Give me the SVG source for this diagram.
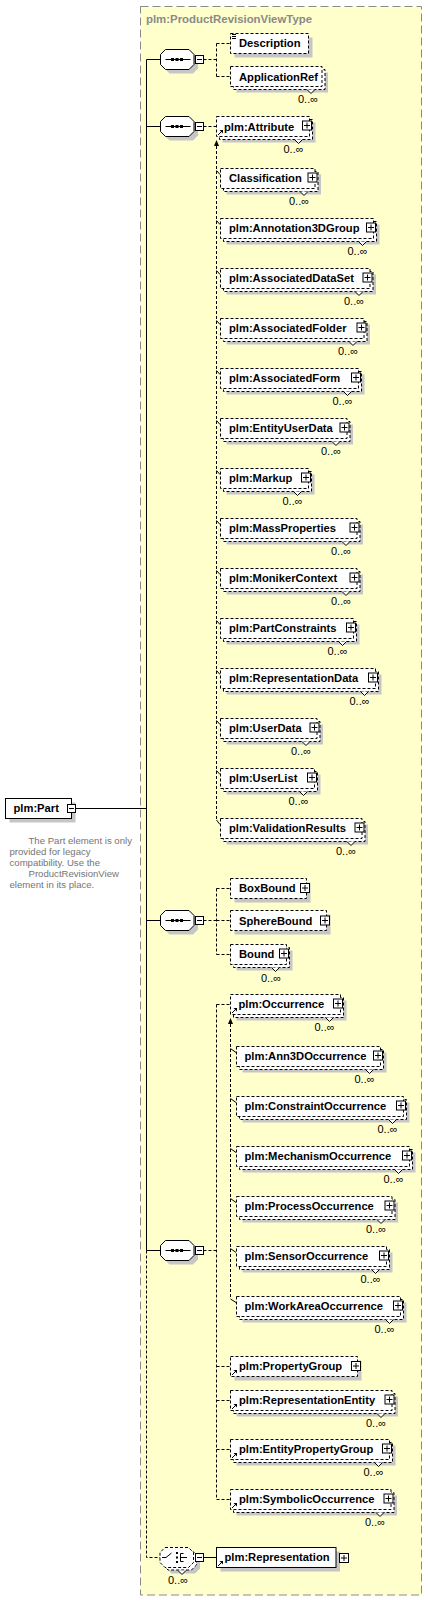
<svg xmlns="http://www.w3.org/2000/svg" xmlns:xlink="http://www.w3.org/1999/xlink" width="428" height="1601" viewBox="0 0 428 1601">
<style>
.t{font-family:"Liberation Sans",Arial,sans-serif;font-weight:bold;font-size:11.2px;fill:#000}
.m{font-family:"Liberation Sans",Arial,sans-serif;font-size:11px;fill:#000}
.c{font-family:"Liberation Sans",Arial,sans-serif;font-size:9.6px;fill:#757575}
.ti{font-family:"Liberation Sans",Arial,sans-serif;font-weight:bold;font-size:11.4px;fill:#8a8a8a}
.d{fill:#fff;stroke:#000;stroke-width:1;stroke-dasharray:3,2}
.s{fill:#fff;stroke:#000;stroke-width:1}
.sh{fill:#c6c6c6;stroke:none}
.n{fill:#fff;stroke:#000;stroke-width:1}
.ln{fill:none;stroke:#000;stroke-width:1}
.dl{fill:none;stroke:#000;stroke-width:1;stroke-dasharray:3,2}
</style>
<defs>
<g id="plus"><rect x="0.5" y="0.5" width="9" height="9" fill="#fff" stroke="#000"/><path d="M2 5H8M5 2V8" stroke="#000" fill="none"/></g>
<g id="minus"><rect x="0.5" y="0.5" width="8" height="8" fill="#fff" stroke="#000"/><path d="M2 4.5H7" stroke="#000" fill="none"/></g>
<g id="ref"><path d="M0.5 5.5L4.5 1.5" stroke="#000" fill="none"/><path d="M2 0.5H5.5V4Z" fill="#000"/></g>
<g id="seqicon"><path d="M0 0H25" stroke="#000" fill="none"/><rect x="5.5" y="-1.5" width="3" height="3" fill="#000"/><rect x="10" y="-1.5" width="3" height="3" fill="#000"/><rect x="14.5" y="-1.5" width="3" height="3" fill="#000"/></g>
<polygon id="oct" points="5,0 28.5,0 33.5,5 33.5,15 28.5,20 5,20 0,15 0,5"/>
</defs>

<rect x="140.5" y="6.5" width="281" height="1588.5" fill="#ffffcc" stroke="#8a8a8a" stroke-dasharray="8,4"/>
<text class="ti" x="146" y="22.5">plm:ProductRevisionViewType</text>

<g id="connectors">
<path class="ln" d="M146.5 59.5V1250.5M75.5 808.5H146.5M146.5 59.5H160.5M146.5 126.5H160.5M146.5 920.5H160.5M146.5 1250.5H160.5"/>
<path class="dl" d="M146.5 1250.5V1557.5H160.5"/>
<path class="dl" d="M203.5 59.5H216.5M216.5 43.5V76.5M216.5 43.5H230.5M216.5 76.5H230.5"/>
<path class="dl" d="M203.5 126.5H216.5M216.5 146V820"/>
<path d="M216.5 140L214 146H219Z" fill="#000"/>
<path class="ln" d="M216.5 170.5L220 174.5M216.5 220.5L220 224.5M216.5 270.5L220 274.5M216.5 320.5L220 324.5M216.5 370.5L220 374.5M216.5 420.5L220 424.5M216.5 470.5L220 474.5M216.5 520.5L220 524.5M216.5 570.5L220 574.5M216.5 620.5L220 624.5M216.5 670.5L220 674.5M216.5 720.5L220 724.5M216.5 770.5L220 774.5M216.5 820L220 824.5"/>
<path class="dl" d="M203.5 920.5H216.5M216.5 888.5V954.5M216.5 888.5H230.5M216.5 920.5H230.5M216.5 954.5H230.5"/>
<path class="dl" d="M203.5 1250.5H216.5M216.5 1004.5V1499.5M216.5 1004.5H230.5M216.5 1366.5H230.5M216.5 1400.5H230.5M216.5 1449.5H230.5M216.5 1499.5H230.5"/>
<path class="dl" d="M230.5 1024V1299"/>
<path d="M230.5 1018L228 1024H233Z" fill="#000"/>
<path class="ln" d="M230.5 1048.5L236 1052.5M230.5 1098.5L236 1102.5M230.5 1148.5L236 1152.5M230.5 1198.5L236 1202.5M230.5 1248.5L236 1252.5M230.5 1299L236 1302.5"/>
<path class="ln" d="M203.5 1557.5H216.5"/>
</g>

<g id="part">
<rect class="sh" x="9.5" y="802.5" width="66" height="20"/>
<rect class="s" x="5.5" y="798.5" width="66" height="20"/>
<text class="t" x="13.5" y="812">plm:Part</text>
<use xlink:href="#minus" x="67" y="804"/>
<text class="c" x="28.5" y="843.5">The Part element is only</text>
<text class="c" x="9.5" y="854.5">provided for legacy</text>
<text class="c" x="9.5" y="865.5">compatibility. Use the</text>
<text class="c" x="28.5" y="876.5">ProductRevisionView</text>
<text class="c" x="9.5" y="887.5">element in its place.</text>
</g>

<g id="seq1">
<use xlink:href="#oct" x="164.5" y="53.5" class="sh"/>
<use xlink:href="#oct" x="160.5" y="49.5" class="s"/>
<use xlink:href="#seqicon" x="165.5" y="59.5"/>
<use xlink:href="#minus" x="195" y="55"/>
</g>
<g id="seq2">
<use xlink:href="#oct" x="164.5" y="120.5" class="sh"/>
<use xlink:href="#oct" x="160.5" y="116.5" class="s"/>
<use xlink:href="#seqicon" x="165.5" y="126.5"/>
<use xlink:href="#minus" x="195" y="122"/>
</g>
<g id="seq3">
<use xlink:href="#oct" x="164.5" y="914.5" class="sh"/>
<use xlink:href="#oct" x="160.5" y="910.5" class="s"/>
<use xlink:href="#seqicon" x="165.5" y="920.5"/>
<use xlink:href="#minus" x="195" y="916"/>
</g>
<g id="seq4">
<use xlink:href="#oct" x="164.5" y="1244.5" class="sh"/>
<use xlink:href="#oct" x="160.5" y="1240.5" class="s"/>
<use xlink:href="#seqicon" x="165.5" y="1250.5"/>
<use xlink:href="#minus" x="195" y="1246"/>
</g>
<g id="choice">
<use xlink:href="#oct" x="166.5" y="1553.5" class="sh"/>
<use xlink:href="#oct" x="163" y="1550" class="d"/>
<use xlink:href="#oct" x="160" y="1547.5" class="d"/>
<path class="n" d="M178 1570.5L182 1574.5L186 1570.5"/>
<path class="ln" d="M162 1557.5H166L171.5 1553M180.5 1553.5V1561.5M180.5 1553.5H183.5M180.5 1557.5H187M180.5 1561.5H183.5"/>
<rect x="176" y="1552" width="2" height="2" fill="#000"/>
<rect x="176" y="1556.5" width="2" height="2" fill="#000"/>
<rect x="176" y="1561" width="2" height="2" fill="#000"/>
<use xlink:href="#minus" x="195" y="1553"/>
<text class="m" x="168" y="1583.5">0..∞</text>
</g>

<g id="description">
<rect class="sh" x="234.5" y="37.5" width="78" height="20"/>
<rect class="d" x="230.5" y="33.5" width="78" height="20"/>
<path class="ln" d="M232 34.5H236M232 36.5H236M232 38.5H236"/>
<text class="t" x="239" y="47">Description</text>
</g>
<g id="applicationref">
<rect class="sh" x="236.5" y="72.5" width="91.5" height="20"/>
<rect class="d" x="233.5" y="69.5" width="91.5" height="20"/>
<rect class="d" x="230.5" y="66.5" width="91.5" height="20"/>
<path class="n" d="M307 89.5L311 93.5L315 89.5"/>
<text class="t" x="239" y="80.5">ApplicationRef</text>
<text class="m" x="298" y="103">0..∞</text>
</g>

<g id="attribute">
<rect class="sh" x="222.5" y="122.5" width="93" height="20"/>
<rect class="d" x="219.5" y="119.5" width="93" height="20"/>
<rect class="d" x="216.5" y="116.5" width="93" height="20"/>
<path class="n" d="M294.5 139.5L298.5 143.5L302.5 139.5"/>
<use xlink:href="#ref" x="217.5" y="129.5"/>
<text class="t" x="224" y="130.5">plm:Attribute</text>
<use xlink:href="#plus" x="302" y="120.5"/>
<text class="m" x="283.5" y="153">0..∞</text>
</g>

<g id="classification">
<rect class="sh" x="226.5" y="174.5" width="94.5" height="20"/>
<rect class="d" x="223.5" y="171.5" width="94.5" height="20"/>
<rect class="d" x="220.5" y="168.5" width="94.5" height="20"/>
<path class="n" d="M300 191.5L304 195.5L308 191.5"/>
<text class="t" x="229" y="182">Classification</text>
<use xlink:href="#plus" x="307.5" y="172.5"/>
<text class="m" x="289" y="205">0..∞</text>
</g>

<g id="annotation3dgroup">
<rect class="sh" x="226.5" y="224.5" width="153" height="20"/>
<rect class="d" x="223.5" y="221.5" width="153" height="20"/>
<rect class="d" x="220.5" y="218.5" width="153" height="20"/>
<path class="n" d="M358.5 241.5L362.5 245.5L366.5 241.5"/>
<text class="t" x="229" y="232">plm:Annotation3DGroup</text>
<use xlink:href="#plus" x="366" y="222.5"/>
<text class="m" x="347.5" y="255">0..∞</text>
</g>

<g id="associateddataset">
<rect class="sh" x="226.5" y="274.5" width="149.5" height="20"/>
<rect class="d" x="223.5" y="271.5" width="149.5" height="20"/>
<rect class="d" x="220.5" y="268.5" width="149.5" height="20"/>
<path class="n" d="M355 291.5L359 295.5L363 291.5"/>
<text class="t" x="229" y="282">plm:AssociatedDataSet</text>
<use xlink:href="#plus" x="362.5" y="272.5"/>
<text class="m" x="344" y="305">0..∞</text>
</g>

<g id="associatedfolder">
<rect class="sh" x="226.5" y="324.5" width="143.5" height="20"/>
<rect class="d" x="223.5" y="321.5" width="143.5" height="20"/>
<rect class="d" x="220.5" y="318.5" width="143.5" height="20"/>
<path class="n" d="M349 341.5L353 345.5L357 341.5"/>
<text class="t" x="229" y="332">plm:AssociatedFolder</text>
<use xlink:href="#plus" x="356.5" y="322.5"/>
<text class="m" x="338" y="355">0..∞</text>
</g>

<g id="associatedform">
<rect class="sh" x="226.5" y="374.5" width="138" height="20"/>
<rect class="d" x="223.5" y="371.5" width="138" height="20"/>
<rect class="d" x="220.5" y="368.5" width="138" height="20"/>
<path class="n" d="M343.5 391.5L347.5 395.5L351.5 391.5"/>
<text class="t" x="229" y="382">plm:AssociatedForm</text>
<use xlink:href="#plus" x="351" y="372.5"/>
<text class="m" x="332.5" y="405">0..∞</text>
</g>

<g id="entityuserdata">
<rect class="sh" x="226.5" y="424.5" width="126.5" height="20"/>
<rect class="d" x="223.5" y="421.5" width="126.5" height="20"/>
<rect class="d" x="220.5" y="418.5" width="126.5" height="20"/>
<path class="n" d="M332 441.5L336 445.5L340 441.5"/>
<text class="t" x="229" y="432">plm:EntityUserData</text>
<use xlink:href="#plus" x="339.5" y="422.5"/>
<text class="m" x="321" y="455">0..∞</text>
</g>

<g id="markup">
<rect class="sh" x="226.5" y="474.5" width="88" height="20"/>
<rect class="d" x="223.5" y="471.5" width="88" height="20"/>
<rect class="d" x="220.5" y="468.5" width="88" height="20"/>
<path class="n" d="M293.5 491.5L297.5 495.5L301.5 491.5"/>
<text class="t" x="229" y="482">plm:Markup</text>
<use xlink:href="#plus" x="301" y="472.5"/>
<text class="m" x="282.5" y="505">0..∞</text>
</g>

<g id="massproperties">
<rect class="sh" x="226.5" y="524.5" width="136.5" height="20"/>
<rect class="d" x="223.5" y="521.5" width="136.5" height="20"/>
<rect class="d" x="220.5" y="518.5" width="136.5" height="20"/>
<path class="n" d="M342 541.5L346 545.5L350 541.5"/>
<text class="t" x="229" y="532">plm:MassProperties</text>
<use xlink:href="#plus" x="349.5" y="522.5"/>
<text class="m" x="331" y="555">0..∞</text>
</g>

<g id="monikercontext">
<rect class="sh" x="226.5" y="574.5" width="136.5" height="20"/>
<rect class="d" x="223.5" y="571.5" width="136.5" height="20"/>
<rect class="d" x="220.5" y="568.5" width="136.5" height="20"/>
<path class="n" d="M342 591.5L346 595.5L350 591.5"/>
<text class="t" x="229" y="582">plm:MonikerContext</text>
<use xlink:href="#plus" x="349.5" y="572.5"/>
<text class="m" x="331" y="605">0..∞</text>
</g>

<g id="partconstraints">
<rect class="sh" x="226.5" y="624.5" width="133" height="20"/>
<rect class="d" x="223.5" y="621.5" width="133" height="20"/>
<rect class="d" x="220.5" y="618.5" width="133" height="20"/>
<path class="n" d="M338.5 641.5L342.5 645.5L346.5 641.5"/>
<text class="t" x="229" y="632">plm:PartConstraints</text>
<use xlink:href="#plus" x="346" y="622.5"/>
<text class="m" x="327.5" y="655">0..∞</text>
</g>

<g id="representationdata">
<rect class="sh" x="226.5" y="674.5" width="155" height="20"/>
<rect class="d" x="223.5" y="671.5" width="155" height="20"/>
<rect class="d" x="220.5" y="668.5" width="155" height="20"/>
<path class="n" d="M360.5 691.5L364.5 695.5L368.5 691.5"/>
<text class="t" x="229" y="682">plm:RepresentationData</text>
<use xlink:href="#plus" x="368" y="672.5"/>
<text class="m" x="349.5" y="705">0..∞</text>
</g>

<g id="userdata">
<rect class="sh" x="226.5" y="724.5" width="96.5" height="20"/>
<rect class="d" x="223.5" y="721.5" width="96.5" height="20"/>
<rect class="d" x="220.5" y="718.5" width="96.5" height="20"/>
<path class="n" d="M302 741.5L306 745.5L310 741.5"/>
<text class="t" x="229" y="732">plm:UserData</text>
<use xlink:href="#plus" x="309.5" y="722.5"/>
<text class="m" x="291" y="755">0..∞</text>
</g>

<g id="userlist">
<rect class="sh" x="226.5" y="774.5" width="94" height="20"/>
<rect class="d" x="223.5" y="771.5" width="94" height="20"/>
<rect class="d" x="220.5" y="768.5" width="94" height="20"/>
<path class="n" d="M299.5 791.5L303.5 795.5L307.5 791.5"/>
<text class="t" x="229" y="782">plm:UserList</text>
<use xlink:href="#plus" x="307" y="772.5"/>
<text class="m" x="288.5" y="805">0..∞</text>
</g>

<g id="validationresults">
<rect class="sh" x="226.5" y="824.5" width="141.5" height="20"/>
<rect class="d" x="223.5" y="821.5" width="141.5" height="20"/>
<rect class="d" x="220.5" y="818.5" width="141.5" height="20"/>
<path class="n" d="M347 841.5L351 845.5L355 841.5"/>
<text class="t" x="229" y="832">plm:ValidationResults</text>
<use xlink:href="#plus" x="354.5" y="822.5"/>
<text class="m" x="336" y="855">0..∞</text>
</g>

<g id="boxbound">
<rect class="sh" x="234.5" y="882.5" width="76" height="20"/>
<rect class="d" x="230.5" y="878.5" width="76" height="20"/>
<text class="t" x="239" y="892">BoxBound</text>
<use xlink:href="#plus" x="300" y="883"/>
</g>
<g id="spherebound">
<rect class="sh" x="234.5" y="914.5" width="96" height="20"/>
<rect class="d" x="230.5" y="910.5" width="96" height="20"/>
<text class="t" x="239" y="924.5">SphereBound</text>
<use xlink:href="#plus" x="320" y="915.5"/>
</g>
<g id="bound">
<rect class="sh" x="236.5" y="950.5" width="56" height="20"/>
<rect class="d" x="233.5" y="947.5" width="56" height="20"/>
<rect class="d" x="230.5" y="944.5" width="56" height="20"/>
<path class="n" d="M271.5 967.5L275.5 971.5L279.5 967.5"/>
<text class="t" x="239" y="958">Bound</text>
<use xlink:href="#plus" x="279" y="948.5"/>
<text class="m" x="261" y="981.5">0..∞</text>
</g>

<g id="occurrence">
<rect class="sh" x="236.5" y="1000.5" width="110" height="20"/>
<rect class="d" x="233.5" y="997.5" width="110" height="20"/>
<rect class="d" x="230.5" y="994.5" width="110" height="20"/>
<path class="n" d="M325.5 1017.5L329.5 1021.5L333.5 1017.5"/>
<use xlink:href="#ref" x="231.5" y="1007.5"/>
<text class="t" x="238.5" y="1008">plm:Occurrence</text>
<use xlink:href="#plus" x="333" y="998.5"/>
<text class="m" x="314.5" y="1031">0..∞</text>
</g>

<g id="ann3doccurrence">
<rect class="sh" x="242.5" y="1052.5" width="144" height="20"/>
<rect class="d" x="239.5" y="1049.5" width="144" height="20"/>
<rect class="d" x="236.5" y="1046.5" width="144" height="20"/>
<path class="n" d="M365.5 1069.5L369.5 1073.5L373.5 1069.5"/>
<text class="t" x="244.5" y="1060">plm:Ann3DOccurrence</text>
<use xlink:href="#plus" x="373" y="1050.5"/>
<text class="m" x="354.5" y="1083">0..∞</text>
</g>

<g id="constraintoccurrence">
<rect class="sh" x="242.5" y="1102.5" width="167" height="20"/>
<rect class="d" x="239.5" y="1099.5" width="167" height="20"/>
<rect class="d" x="236.5" y="1096.5" width="167" height="20"/>
<path class="n" d="M388.5 1119.5L392.5 1123.5L396.5 1119.5"/>
<text class="t" x="244.5" y="1110">plm:ConstraintOccurrence</text>
<use xlink:href="#plus" x="396" y="1100.5"/>
<text class="m" x="377.5" y="1133">0..∞</text>
</g>

<g id="mechanismoccurrence">
<rect class="sh" x="242.5" y="1152.5" width="173" height="20"/>
<rect class="d" x="239.5" y="1149.5" width="173" height="20"/>
<rect class="d" x="236.5" y="1146.5" width="173" height="20"/>
<path class="n" d="M394.5 1169.5L398.5 1173.5L402.5 1169.5"/>
<text class="t" x="244.5" y="1160">plm:MechanismOccurrence</text>
<use xlink:href="#plus" x="402" y="1150.5"/>
<text class="m" x="383.5" y="1183">0..∞</text>
</g>

<g id="processoccurrence">
<rect class="sh" x="242.5" y="1202.5" width="155.5" height="20"/>
<rect class="d" x="239.5" y="1199.5" width="155.5" height="20"/>
<rect class="d" x="236.5" y="1196.5" width="155.5" height="20"/>
<path class="n" d="M377 1219.5L381 1223.5L385 1219.5"/>
<text class="t" x="244.5" y="1210">plm:ProcessOccurrence</text>
<use xlink:href="#plus" x="384.5" y="1200.5"/>
<text class="m" x="366" y="1233">0..∞</text>
</g>

<g id="sensoroccurrence">
<rect class="sh" x="242.5" y="1252.5" width="150" height="20"/>
<rect class="d" x="239.5" y="1249.5" width="150" height="20"/>
<rect class="d" x="236.5" y="1246.5" width="150" height="20"/>
<path class="n" d="M371.5 1269.5L375.5 1273.5L379.5 1269.5"/>
<text class="t" x="244.5" y="1260">plm:SensorOccurrence</text>
<use xlink:href="#plus" x="379" y="1250.5"/>
<text class="m" x="360.5" y="1283">0..∞</text>
</g>

<g id="workareaoccurrence">
<rect class="sh" x="242.5" y="1302.5" width="164" height="20"/>
<rect class="d" x="239.5" y="1299.5" width="164" height="20"/>
<rect class="d" x="236.5" y="1296.5" width="164" height="20"/>
<path class="n" d="M385.5 1319.5L389.5 1323.5L393.5 1319.5"/>
<text class="t" x="244.5" y="1310">plm:WorkAreaOccurrence</text>
<use xlink:href="#plus" x="393" y="1300.5"/>
<text class="m" x="374.5" y="1333">0..∞</text>
</g>

<g id="propertygroup">
<rect class="sh" x="234.5" y="1360.5" width="127" height="20"/>
<rect class="d" x="230.5" y="1356.5" width="127" height="20"/>
<use xlink:href="#ref" x="231.5" y="1369.5"/>
<text class="t" x="239" y="1370">plm:PropertyGroup</text>
<use xlink:href="#plus" x="351" y="1361"/>
</g>

<g id="representationentity">
<rect class="sh" x="236.5" y="1396.5" width="161.5" height="20"/>
<rect class="d" x="233.5" y="1393.5" width="161.5" height="20"/>
<rect class="d" x="230.5" y="1390.5" width="161.5" height="20"/>
<path class="n" d="M377 1413.5L381 1417.5L385 1413.5"/>
<use xlink:href="#ref" x="231.5" y="1403.5"/>
<text class="t" x="239" y="1404">plm:RepresentationEntity</text>
<use xlink:href="#plus" x="384.5" y="1394.5"/>
<text class="m" x="366" y="1426.5">0..∞</text>
</g>

<g id="entitypropertygroup">
<rect class="sh" x="236.5" y="1445.5" width="159" height="20"/>
<rect class="d" x="233.5" y="1442.5" width="159" height="20"/>
<rect class="d" x="230.5" y="1439.5" width="159" height="20"/>
<path class="n" d="M374.5 1462.5L378.5 1466.5L382.5 1462.5"/>
<use xlink:href="#ref" x="231.5" y="1452.5"/>
<text class="t" x="239" y="1453">plm:EntityPropertyGroup</text>
<use xlink:href="#plus" x="382" y="1443.5"/>
<text class="m" x="363.5" y="1476">0..∞</text>
</g>

<g id="symbolicoccurrence">
<rect class="sh" x="236.5" y="1495.5" width="160.5" height="20"/>
<rect class="d" x="233.5" y="1492.5" width="160.5" height="20"/>
<rect class="d" x="230.5" y="1489.5" width="160.5" height="20"/>
<path class="n" d="M376 1512.5L380 1516.5L384 1512.5"/>
<use xlink:href="#ref" x="231.5" y="1502.5"/>
<text class="t" x="239" y="1503">plm:SymbolicOccurrence</text>
<use xlink:href="#plus" x="383.5" y="1493.5"/>
<text class="m" x="365" y="1526">0..∞</text>
</g>

<g id="representation">
<rect class="sh" x="220.5" y="1551.5" width="119.5" height="20"/>
<rect class="s" x="216.5" y="1547.5" width="119.5" height="20"/>
<use xlink:href="#ref" x="217.5" y="1560.5"/>
<text class="t" x="224.5" y="1561">plm:Representation</text>
<use xlink:href="#plus" x="339" y="1553"/>
</g>
</svg>
